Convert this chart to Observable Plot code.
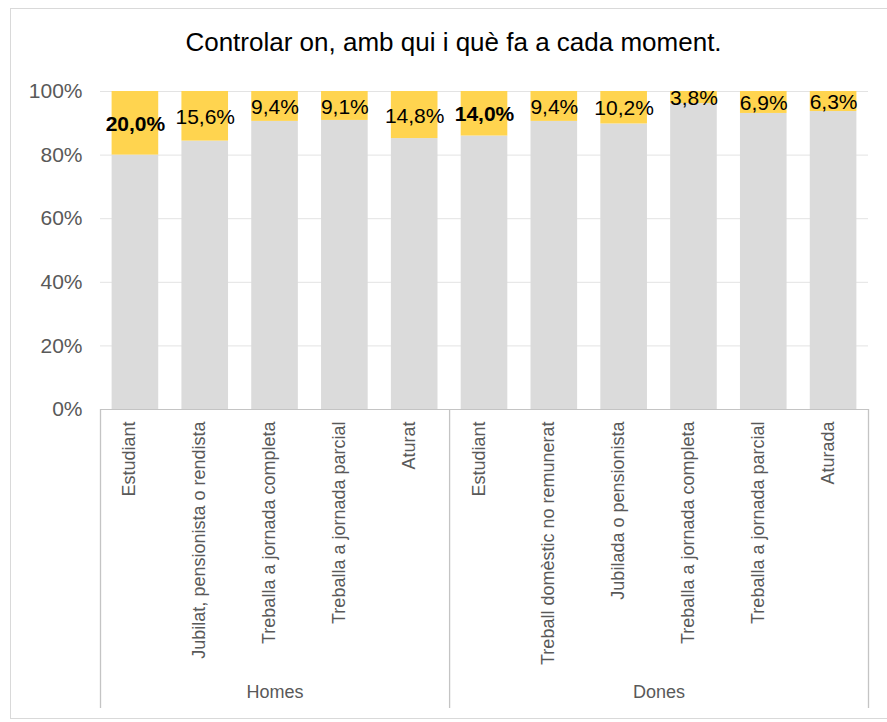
<!DOCTYPE html>
<html>
<head>
<meta charset="utf-8">
<script src="https://cdn.jsdelivr.net/npm/d3@7"></script>
<script src="https://cdn.jsdelivr.net/npm/@observablehq/plot@0.6"></script>
<style>
  html, body { margin: 0; padding: 0; background: #fff; }
  body { width: 887px; height: 722px; position: relative; overflow: hidden; font-family: "Liberation Sans", Arial, sans-serif; }
  #frame { position: absolute; left: 10px; top: 8px; width: 886px; height: 711px; border: 1px solid #D9D9D9; box-sizing: border-box; }
  #title { position: absolute; left: 10px; top: 27px; width: 887px; text-align: center; font-size: 26px; line-height: 30px; color: #000; }
  #chart { position: absolute; left: 0; top: 70px; }
</style>
</head>
<body>
<div id="frame"></div>
<div id="title">Controlar on, amb qui i què fa a cada moment.</div>
<div id="chart"></div>
<script>
// ---- data ----
const title = "Controlar on, amb qui i què fa a cada moment.";
const groupNames = ["Homes", "Dones"];
const homesCategories = ["Estudiant", "Jubilat, pensionista o rendista", "Treballa a jornada completa", "Treballa a jornada parcial", "Aturat"];
const homesValues = [20.0, 15.6, 9.4, 9.1, 14.8];
const donesCategories = ["Estudiant", "Treball domèstic no remunerat", "Jubilada o pensionista", "Treballa a jornada completa", "Treballa a jornada parcial", "Aturada"];
const donesValues = [14.0, 9.4, 10.2, 3.8, 6.9, 6.3];
const yTicks = [0, 20, 40, 60, 80, 100];

// ---- derived table ----
const groupCats = [homesCategories, donesCategories];
const groupVals = [homesValues, donesValues];
const rows = [];
const groups = [];
const boundaries = [0];
let idx = 0;
groupNames.forEach((g, gi) => {
  const start = idx;
  const maxV = d3.max(groupVals[gi]);
  groupCats[gi].forEach((c, ci) => {
    const v = groupVals[gi][ci];
    rows.push({i: idx, group: g, category: c, value: v, isMax: v === maxV});
    idx++;
  });
  groups.push({name: g, mid: (start + idx) / 2});
  boundaries.push(idx);
});
const n = idx;
const fmt = v => v.toFixed(1).replace(".", ",") + "%";

const segments = [];
rows.forEach(r => {
  segments.push({i: r.i, part: "rest", y1: 0, y2: 100 - r.value});
  segments.push({i: r.i, part: "yes", y1: 100 - r.value, y2: 100});
});

const chart = Plot.plot({
  width: 887,
  height: 652,
  marginTop: 21,
  marginBottom: 313,
  marginLeft: 100,
  marginRight: 19,
  style: {fontFamily: "Liberation Sans, Arial, sans-serif", background: "transparent", overflow: "visible"},
  x: {type: "linear", domain: [0, n], axis: null},
  y: {domain: [0, 100], axis: null},
  color: {domain: ["rest", "yes"], range: ["#DBDBDB", "#FFD44F"]},
  marks: [
    Plot.gridY(yTicks.filter(t => t > 0), {stroke: "#E3E3E3", strokeOpacity: 1}),
    Plot.rectY(segments, {x1: "i", x2: d => d.i + 1, y1: "y1", y2: "y2", fill: "part", insetLeft: 11.6, insetRight: 11.6}),
    Plot.ruleY([0], {stroke: "#C4C4C4", strokeWidth: 1}),
    Plot.ruleX(boundaries, {stroke: "#C4C4C4", strokeWidth: 1.3, insetTop: 318, insetBottom: -299}),
    Plot.axisY({ticks: yTicks, tickFormat: d => d + "%", tickSize: 0, tickPadding: 18, fontSize: 21, color: "#595959"}),
    Plot.text(rows.filter(r => !r.isMax), {x: d => d.i + 0.5, y: d => 100 - d.value / 2, text: d => fmt(d.value), fontSize: 21, fill: "#000", dy: 1}),
    Plot.text(rows.filter(r => r.isMax), {x: d => d.i + 0.5, y: d => 100 - d.value / 2, text: d => fmt(d.value), fontSize: 21, fontWeight: "bold", fill: "#000", dy: 1}),
    Plot.text(rows, {x: d => d.i + 0.5, frameAnchor: "bottom", text: "category", rotate: -90, textAnchor: "end", dy: 12, fontSize: 18, fill: "#595959"}),
    Plot.text(groups, {x: "mid", frameAnchor: "bottom", text: "name", dy: 288, fontSize: 18, fill: "#595959"})
  ]
});
document.getElementById("chart").appendChild(chart);
</script>
</body>
</html>
